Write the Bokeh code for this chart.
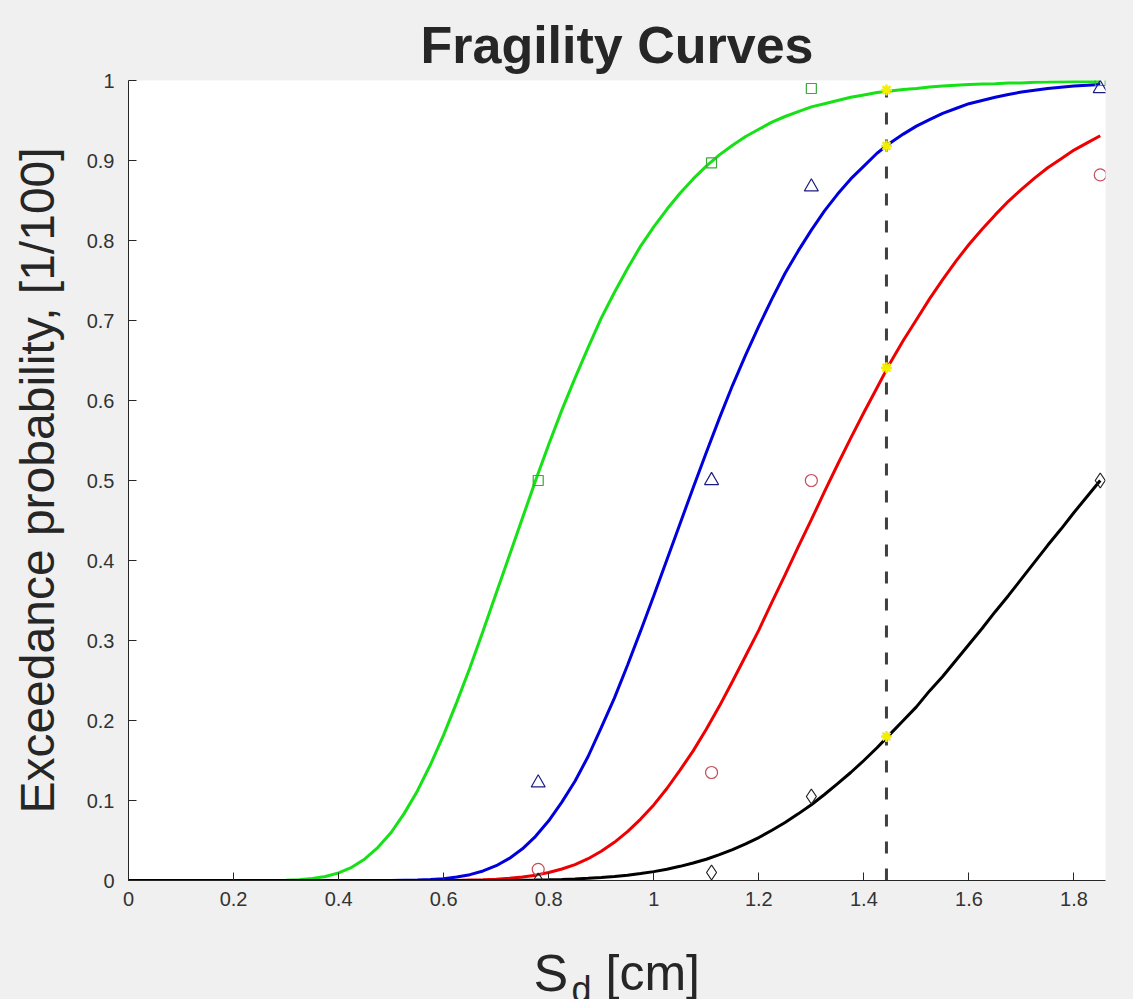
from bokeh.plotting import figure
from bokeh.models import FixedTicker, Range1d, Label
from bokeh.layouts import column
from bokeh.embed import file_html
from bokeh.resources import INLINE

# ---- data ----
sd_grid = [0.000, 0.025, 0.050, 0.075, 0.100, 0.125, 0.150, 0.175, 0.200, 0.225,
           0.250, 0.275, 0.300, 0.325, 0.350, 0.375, 0.400, 0.425, 0.450, 0.475,
           0.500, 0.525, 0.550, 0.575, 0.600, 0.625, 0.650, 0.675, 0.700, 0.725,
           0.750, 0.775, 0.800, 0.825, 0.850, 0.875, 0.900, 0.925, 0.950, 0.975,
           1.000, 1.025, 1.050, 1.075, 1.100, 1.125, 1.150, 1.175, 1.200, 1.225,
           1.250, 1.275, 1.300, 1.325, 1.350, 1.375, 1.400, 1.425, 1.450, 1.475,
           1.500, 1.525, 1.550, 1.575, 1.600, 1.625, 1.650, 1.675, 1.700, 1.725,
           1.750, 1.775, 1.800, 1.825, 1.850]

curve_green = [0, 0, 0, 0, 0, 0, 0, 0, 0, 0,
               0, 0, 0.0004, 0.0010, 0.0024, 0.0050, 0.0096, 0.0165, 0.027, 0.0415,
               0.060, 0.0839, 0.112, 0.145, 0.182, 0.223, 0.266, 0.312, 0.359, 0.406,
               0.453, 0.500, 0.545, 0.588, 0.628, 0.666, 0.703, 0.735, 0.765, 0.793,
               0.817, 0.839, 0.859, 0.877, 0.893, 0.907, 0.919, 0.930, 0.939, 0.948,
               0.955, 0.961, 0.967, 0.971, 0.975, 0.979, 0.982, 0.985, 0.987, 0.9888,
               0.990, 0.9918, 0.993, 0.994, 0.995, 0.9957, 0.996, 0.9969, 0.997, 0.9977,
               0.998, 0.9984, 0.9986, 0.9988, 0.999]
curve_blue = [0, 0, 0, 0, 0, 0, 0, 0, 0, 0,
              0, 0, 0, 0, 0, 0, 0, 0, 0, 0,
              0, 0.0003, 0.0006, 0.0012, 0.0023, 0.0043, 0.0073, 0.0119, 0.0185, 0.0276,
              0.0396, 0.0552, 0.0746, 0.098, 0.124, 0.155, 0.191, 0.228, 0.269, 0.312,
              0.356, 0.401, 0.446, 0.491, 0.535, 0.578, 0.619, 0.657, 0.693, 0.727,
              0.759, 0.787, 0.813, 0.837, 0.858, 0.877, 0.893, 0.909, 0.922, 0.933,
              0.943, 0.951, 0.959, 0.965, 0.971, 0.975, 0.979, 0.9826, 0.9855, 0.9878,
              0.990, 0.9915, 0.993, 0.9942, 0.995]
curve_red = [0, 0, 0, 0, 0, 0, 0, 0, 0, 0,
             0, 0, 0, 0, 0, 0, 0, 0, 0, 0,
             0, 0, 0, 0, 0, 0, 0.0005, 0.0010, 0.0017, 0.0027,
             0.0044, 0.0067, 0.0100, 0.0144, 0.0199, 0.0272, 0.0366, 0.0477, 0.0611, 0.0768,
             0.0945, 0.115, 0.138, 0.162, 0.189, 0.218, 0.249, 0.281, 0.313, 0.348,
             0.382, 0.417, 0.451, 0.486, 0.520, 0.553, 0.585, 0.616, 0.647, 0.675,
             0.701, 0.727, 0.751, 0.774, 0.795, 0.814, 0.832, 0.849, 0.864, 0.878,
             0.891, 0.902, 0.913, 0.922, 0.931]
curve_black = [0, 0, 0, 0, 0, 0, 0, 0, 0, 0,
               0, 0, 0, 0, 0, 0, 0, 0, 0, 0,
               0, 0, 0, 0, 0, 0, 0, 0, 0, 0,
               0.0004, 0.0006, 0.0009, 0.0013, 0.0019, 0.0027, 0.0037, 0.0050, 0.0066, 0.0087,
               0.0111, 0.0141, 0.0177, 0.0218, 0.0266, 0.0323, 0.0387, 0.0458, 0.0537, 0.0628,
               0.0725, 0.0833, 0.0947, 0.1075, 0.121, 0.135, 0.150, 0.166, 0.183, 0.200,
               0.217, 0.237, 0.255, 0.275, 0.295, 0.315, 0.336, 0.356, 0.377, 0.398,
               0.419, 0.439, 0.460, 0.480, 0.500]

obs_sd = [0.78, 1.11, 1.30, 1.85]
obs_green = [0.50, 0.897, 0.99, 1.0]
obs_blue = [0.122, 0.50, 0.867, 0.99]
obs_red = [0.014, 0.135, 0.50, 0.882]
obs_black = [0.0, 0.01, 0.105, 0.50]

sd_star = 1.443
star_values = [0.988, 0.918, 0.641, 0.180]

x_ticks = [0, 0.2, 0.4, 0.6, 0.8, 1.0, 1.2, 1.4, 1.6, 1.8]
x_tick_labels = ["0", "0.2", "0.4", "0.6", "0.8", "1", "1.2", "1.4", "1.6", "1.8"]
y_ticks = [0, 0.1, 0.2, 0.3, 0.4, 0.5, 0.6, 0.7, 0.8, 0.9, 1.0]
y_tick_labels = ["0", "0.1", "0.2", "0.3", "0.4", "0.5", "0.6", "0.7", "0.8", "0.9", "1"]

FONT = "Liberation Sans"
BG = "#f0f0f0"
INK = "#262626"
LEFT, RIGHT = 128, 28

# ---- main axes ----
p = figure(width=1133, height=916, output_backend="svg", toolbar_location=None,
           x_range=Range1d(0, 1.86), y_range=Range1d(0, 1),
           min_border_left=LEFT, min_border_right=RIGHT, min_border_top=80,
           min_border_bottom=36, title="Fragility Curves")
p.border_fill_color = BG
p.background_fill_color = "white"
p.outline_line_color = None
p.grid.visible = False

p.title.align = "center"
p.title.text_font = FONT
p.title.text_font_size = "52px"
p.title.text_font_style = "bold"
p.title.text_color = INK
p.title.standoff = 14

for ax in (p.xaxis[0], p.yaxis[0]):
    ax.axis_line_color = INK
    ax.axis_line_width = 1
    ax.major_tick_in = 8
    ax.major_tick_out = 0
    ax.major_tick_line_color = INK
    ax.minor_tick_line_color = None
    ax.major_label_text_font = FONT
    ax.major_label_text_font_size = "20px"
    ax.major_label_text_color = "#333333"

p.xaxis.ticker = FixedTicker(ticks=x_ticks)
p.xaxis.major_label_overrides = dict(zip(x_ticks, x_tick_labels))
p.xaxis.major_label_standoff = 11
p.yaxis.ticker = FixedTicker(ticks=y_ticks)
p.yaxis.major_label_overrides = dict(zip(y_ticks, y_tick_labels))
p.yaxis.major_label_standoff = 14

p.yaxis.axis_label = "Exceedance probability, [1/100]"
p.yaxis.axis_label_text_font = FONT
p.yaxis.axis_label_text_font_size = "48px"
p.yaxis.axis_label_text_font_style = "normal"
p.yaxis.axis_label_text_color = INK
p.yaxis.axis_label_standoff = 20

# ---- curves ----
p.line(sd_grid, curve_green, line_color="#16e016", line_width=3)
p.line(sd_grid, curve_blue, line_color="#0000dd", line_width=3)
p.line(sd_grid, curve_red, line_color="#ee0000", line_width=3)
p.line(sd_grid, curve_black, line_color="black", line_width=3)

# ---- observed points ----
p.scatter(obs_sd, obs_green, marker="square", size=10, fill_color=None,
          line_color="#3aa83a", line_width=1.2)
p.scatter(obs_sd, obs_blue, marker="triangle", size=14, fill_color=None,
          line_color="#1c1c80", line_width=1.2)
p.scatter(obs_sd, obs_red, marker="circle", size=12, fill_color=None,
          line_color="#c84a5a", line_width=1.2)
p.scatter(obs_sd, obs_black, marker="diamond", size=15, fill_color=None,
          line_color="#222222", line_width=1.2)

# ---- design value line and intersections ----
p.segment(x0=[sd_star], y0=[0], x1=[sd_star], y1=[star_values[0]],
          line_color="#404040", line_width=3, line_dash="12 15")
p.scatter([sd_star] * len(star_values), star_values, marker="asterisk", size=11,
          line_color="#f2f000", line_width=2.5)

# ---- x axis label strip (S_d [cm] with a real subscript) ----
q = figure(width=1133, height=83, output_backend="svg", toolbar_location=None,
           x_range=Range1d(LEFT, 1133 - RIGHT), y_range=Range1d(0, 83),
           x_axis_location=None, y_axis_location=None,
           min_border_left=LEFT, min_border_right=RIGHT,
           min_border_top=0, min_border_bottom=0)
q.border_fill_color = BG
q.background_fill_color = BG
q.outline_line_color = None
q.grid.visible = False
lab_kw = dict(text_font=FONT, text_color=INK, text_baseline="alphabetic")
q.add_layout(Label(x=533, y=27, text="S", text_font_size="52px", **lab_kw))
q.add_layout(Label(x=571, y=10, text="d", text_font_size="36px", **lab_kw))
q.add_layout(Label(x=605, y=27, text="[cm]", text_font_size="50px", **lab_kw))

layout = column(p, q, spacing=0, styles={"background-color": BG})
open("out.html", "w").write(file_html(layout, INLINE))
